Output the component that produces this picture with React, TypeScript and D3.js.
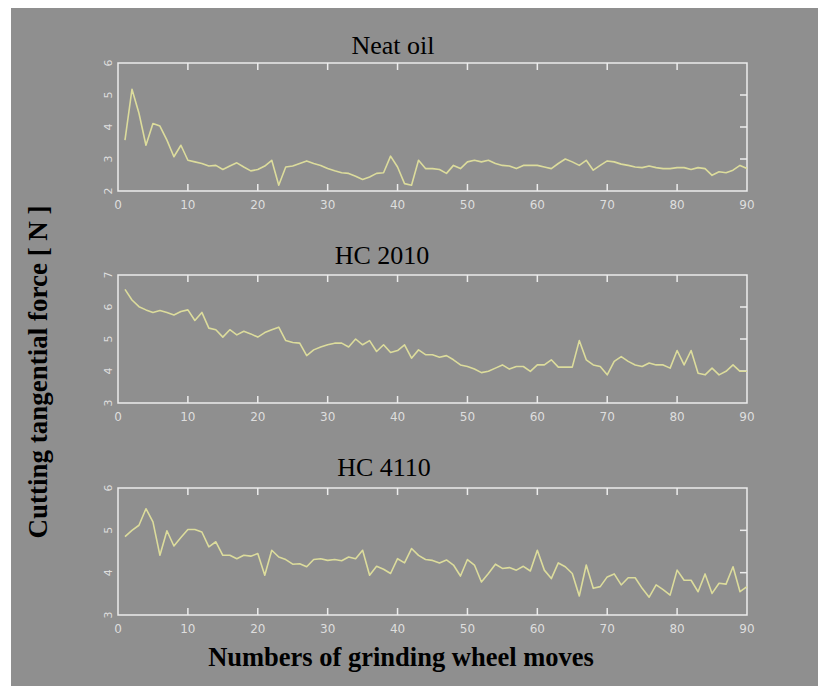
import React from "react";
import * as d3 from "d3";

const moves: number[] = d3.range(1, 91);

const neatOil: number[] = [
  3.59, 5.18, 4.43, 3.43, 4.11, 4.03, 3.59, 3.07, 3.43, 2.96,
  2.91, 2.86, 2.78, 2.8, 2.67, 2.78, 2.88, 2.75, 2.63, 2.67,
  2.78, 2.96, 2.18, 2.75, 2.78, 2.86, 2.94, 2.86, 2.8, 2.7,
  2.63, 2.57, 2.55, 2.46, 2.36, 2.44, 2.55, 2.57, 3.09, 2.75,
  2.23, 2.18, 2.96, 2.7, 2.7, 2.67, 2.55, 2.8, 2.7, 2.91,
  2.96, 2.91, 2.96, 2.86, 2.8, 2.78, 2.7, 2.8, 2.8, 2.8,
  2.75, 2.7, 2.86, 3.0, 2.91, 2.8, 2.96, 2.65, 2.8, 2.94,
  2.91, 2.84, 2.8, 2.75, 2.73, 2.78, 2.73, 2.7, 2.7, 2.73,
  2.73, 2.67, 2.73, 2.7, 2.49, 2.6, 2.57, 2.65, 2.8, 2.7,
];

const hc2010: number[] = [
  6.55, 6.22, 6.01, 5.91, 5.83, 5.89, 5.83, 5.75, 5.86, 5.91,
  5.58, 5.83, 5.34, 5.29, 5.06, 5.29, 5.13, 5.24, 5.16, 5.06,
  5.2, 5.29, 5.37, 4.95, 4.89, 4.87, 4.48, 4.66, 4.75, 4.82,
  4.87, 4.87, 4.75, 5.0, 4.82, 4.95, 4.61, 4.82, 4.58, 4.64,
  4.82, 4.4, 4.66, 4.51, 4.51, 4.43, 4.48, 4.35, 4.19, 4.14,
  4.06, 3.95, 3.99, 4.09, 4.19, 4.06, 4.14, 4.14, 3.99, 4.19,
  4.19, 4.35, 4.12, 4.12, 4.12, 4.95, 4.35, 4.19, 4.14, 3.88,
  4.3, 4.45, 4.3, 4.19, 4.14, 4.25, 4.19, 4.19, 4.09, 4.64,
  4.19, 4.64, 3.93, 3.88, 4.09, 3.88, 3.99, 4.19, 3.99, 3.99,
];

const hc4110: number[] = [
  4.85, 5.0, 5.12, 5.51, 5.2, 4.41, 4.99, 4.63, 4.83, 5.02,
  5.02, 4.96, 4.61, 4.73, 4.41, 4.41, 4.33, 4.41, 4.39, 4.45,
  3.94, 4.53, 4.37, 4.31, 4.2, 4.21, 4.14, 4.31, 4.33, 4.29,
  4.31, 4.28, 4.37, 4.33, 4.53, 3.94, 4.15, 4.08, 3.98, 4.33,
  4.23, 4.57, 4.41, 4.31, 4.29, 4.23, 4.3, 4.18, 3.92, 4.31,
  4.18, 3.78, 3.98, 4.2, 4.1, 4.12, 4.06, 4.15, 4.04, 4.53,
  4.06, 3.86, 4.23, 4.14, 3.98, 3.45, 4.18, 3.63, 3.67, 3.9,
  3.97, 3.71, 3.88, 3.88, 3.63, 3.42, 3.71, 3.6, 3.47, 4.06,
  3.82, 3.82, 3.55, 3.97, 3.51, 3.75, 3.73, 4.14, 3.55, 3.67,
];

const xTicks: number[] = [0, 10, 20, 30, 40, 50, 60, 70, 80, 90];
const titles: string[] = ["Neat oil", "HC 2010", "HC 4110"];
const yDomains: [number, number][] = [[2, 6], [3, 7], [3, 6]];
const seriesList: number[][] = [neatOil, hc2010, hc4110];

const BG = "#8f8f8f";
const AXIS = "#ececec";
const LINE = "#dcdc9c";
const TICKLBL = "#dedede";

const panels = [
  { top: 63, bottom: 191, titleX: 393, titleY: 54 },
  { top: 275, bottom: 403, titleX: 382, titleY: 264 },
  { top: 488, bottom: 615, titleX: 384, titleY: 476 },
];

const X0 = 118;
const X1 = 747;

function Panel({ idx }: { idx: number }) {
  const p = panels[idx];
  const data = seriesList[idx];
  const x = d3.scaleLinear().domain([0, 90]).range([X0, X1]);
  const y = d3.scaleLinear().domain(yDomains[idx]).range([p.bottom, p.top]);
  const yTicks = d3.range(yDomains[idx][0], yDomains[idx][1] + 0.001, 1);
  const line = d3
    .line<number>()
    .x((_, i) => x(moves[i]))
    .y((d) => y(d));
  const tk = 7;
  return (
    <g>
      <text
        x={p.titleX}
        y={p.titleY}
        textAnchor="middle"
        fontFamily="'Liberation Serif', 'Times New Roman', serif"
        fontSize={26}
        fill="#000"
      >
        {titles[idx]}
      </text>
      <rect
        x={X0}
        y={p.top}
        width={X1 - X0}
        height={p.bottom - p.top}
        fill="none"
        stroke={AXIS}
        strokeWidth={1.5}
      />
      {xTicks.slice(1, -1).map((t) => (
        <g key={"xt" + t}>
          <line x1={x(t)} x2={x(t)} y1={p.top} y2={p.top + tk} stroke={AXIS} strokeWidth={1.5} />
          <line x1={x(t)} x2={x(t)} y1={p.bottom} y2={p.bottom - tk} stroke={AXIS} strokeWidth={1.5} />
        </g>
      ))}
      {yTicks.slice(1, -1).map((t) => (
        <line key={"yt" + t} x1={X1} x2={X1 - tk} y1={y(t)} y2={y(t)} stroke={AXIS} strokeWidth={1.5} />
      ))}
      {xTicks.map((t) => (
        <text
          key={"xl" + t}
          x={x(t)}
          y={p.bottom + 18}
          textAnchor="middle"
          fontFamily="'DejaVu Sans', sans-serif"
          fontSize={12}
          fill={TICKLBL}
        >
          {t}
        </text>
      ))}
      {yTicks.map((t) => (
        <text
          key={"yl" + t}
          transform={`translate(${X0 - 6},${y(t)}) rotate(-90)`}
          textAnchor="middle"
          fontFamily="'DejaVu Sans', sans-serif"
          fontSize={11}
          fill={TICKLBL}
        >
          {t}
        </text>
      ))}
      <path d={line(data) || ""} fill="none" stroke={LINE} strokeWidth={1.6} strokeLinejoin="round" />
    </g>
  );
}

export default function App() {
  return (
    <svg
      width={818}
      height={686}
      style={{ position: "absolute", left: 0, top: 0, display: "block" }}
    >
      <rect x={0} y={0} width={818} height={686} fill="#ffffff" />
      <rect x={11} y={8} width={807} height={678} fill={BG} />
      {[0, 1, 2].map((i) => (
        <Panel key={i} idx={i} />
      ))}
      <text
        transform="translate(47,372) rotate(-90)"
        textAnchor="middle"
        fontFamily="'Liberation Serif', 'Times New Roman', serif"
        fontWeight="bold"
        fontSize={27}
        fill="#000"
      >
        Cutting tangential force [ N ]
      </text>
      <text
        x={401}
        y={666}
        textAnchor="middle"
        fontFamily="'Liberation Serif', 'Times New Roman', serif"
        fontWeight="bold"
        fontSize={26.5}
        fill="#000"
      >
        Numbers of grinding wheel moves
      </text>
    </svg>
  );
}
